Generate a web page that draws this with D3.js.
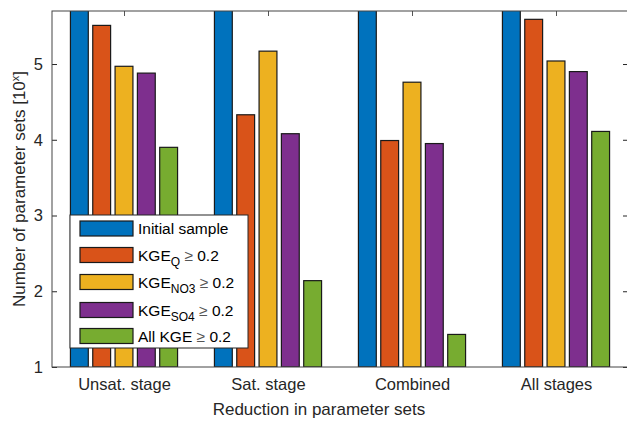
<!DOCTYPE html>
<html>
<head>
<meta charset="utf-8">
<script src="https://cdn.jsdelivr.net/npm/d3@7"></script>
<style>
  body { margin: 0; background: #fff; }
  svg { font-family: "Liberation Sans", Arial, sans-serif; }
</style>
</head>
<body>
<div id="chart"></div>
<script>
// Data (log10 of number of parameter sets)
const stages = ["Unsat. stage", "Sat. stage", "Combined", "All stages"];
const seriesNames = ["Initial sample", "KGE_Q", "KGE_NO3", "KGE_SO4", "All KGE"];
const initialSample = [6, 6, 6, 6];
const kgeQ = [5.51, 4.33, 3.99, 5.59];
const kgeNO3 = [4.97, 5.17, 4.76, 5.04];
const kgeSO4 = [4.88, 4.08, 3.95, 4.90];
const allKGE = [3.90, 2.14, 1.43, 4.11];
const yTicks = [1, 2, 3, 4, 5];

const seriesValues = [initialSample, kgeQ, kgeNO3, kgeSO4, allKGE];
const colors = ["#0072BD", "#D95319", "#EDB120", "#7E2F8E", "#77AC30"];

const width = 627, height = 424;
const margin = {top: 11, right: -1, bottom: 57, left: 52};
const innerW = width - margin.left - margin.right;
const innerH = height - margin.top - margin.bottom;

const svg = d3.select('#chart')
  .append('svg')
  .attr('width', width)
  .attr('height', height);

svg.append('defs').append('clipPath')
  .attr('id', 'plotClip')
  .append('rect')
  .attr('width', innerW)
  .attr('height', innerH);

const g = svg.append('g')
  .attr('transform', `translate(${margin.left},${margin.top})`);

// Category scale, xlim [0.5, 4.5]
const x = d3.scaleLinear().domain([0.5, 4.5]).range([0, innerW]);
const y = d3.scaleLinear().domain([1, 5.7]).range([innerH, 0]);

const groupStep = x(2) - x(1);
const slot = groupStep * 0.155;
const barW = slot * 0.8;

// bars
const bars = g.append('g').attr('clip-path', 'url(#plotClip)');
seriesValues.forEach((vals, s) => {
  bars.selectAll(null)
    .data(vals)
    .enter()
    .append('rect')
    .attr('x', (d, i) => x(i + 1) + (s - 2) * slot - barW / 2)
    .attr('y', d => y(d))
    .attr('width', barW)
    .attr('height', d => y(1) - y(d))
    .attr('fill', colors[s])
    .attr('stroke', '#1a1a1a')
    .attr('stroke-width', 1.2);
});

// axes (MATLAB style: ticks inward, box on)
const axisColor = '#262626';
const tickLen = 5;

const yAxis = g.append('g')
  .call(d3.axisLeft(y).tickValues(yTicks).tickSize(-tickLen).tickPadding(9).tickFormat(d3.format('d')));
yAxis.select('.domain').remove();
yAxis.selectAll('line').attr('stroke', axisColor);
yAxis.selectAll('text').attr('font-size', 16.5).attr('fill', '#262626');

const yAxisR = g.append('g')
  .attr('transform', `translate(${innerW},0)`)
  .call(d3.axisRight(y).tickValues(yTicks).tickSize(-tickLen).tickFormat(''));
yAxisR.select('.domain').remove();
yAxisR.selectAll('line').attr('stroke', axisColor);

const xAxis = g.append('g')
  .attr('transform', `translate(0,${innerH})`)
  .call(d3.axisBottom(x).tickValues([1, 2, 3, 4]).tickSize(0).tickPadding(11).tickFormat((d, i) => stages[i]));
xAxis.select('.domain').remove();
xAxis.selectAll('text').attr('font-size', 16.5).attr('fill', '#262626');

const xAxisT = g.append('g')
  .call(d3.axisTop(x).tickValues([1, 2, 3, 4]).tickSize(-tickLen).tickFormat(''));
xAxisT.select('.domain').remove();
xAxisT.selectAll('line').attr('stroke', '#555');

// box
g.append('rect')
  .attr('width', innerW)
  .attr('height', innerH)
  .attr('fill', 'none')
  .attr('stroke', '#444')
  .attr('stroke-width', 1);

// axis labels
svg.append('text')
  .attr('x', 319)
  .attr('y', 415)
  .attr('text-anchor', 'middle')
  .attr('font-size', 17)
  .attr('fill', '#262626')
  .text('Reduction in parameter sets');

const yl = svg.append('text')
  .attr('transform', `translate(25,${margin.top + innerH / 2}) rotate(-90)`)
  .attr('text-anchor', 'middle')
  .attr('font-size', 17)
  .attr('fill', '#262626');
yl.append('tspan').text('Number of parameter sets [10');
yl.append('tspan').attr('baseline-shift', 'super').attr('font-size', 11).text('x');
yl.append('tspan').text(']');

// legend
const legend = svg.append('g').attr('transform', 'translate(70,215)');
legend.append('rect')
  .attr('width', 178)
  .attr('height', 133)
  .attr('fill', '#fff')
  .attr('stroke', '#262626')
  .attr('stroke-width', 1);

const rowY = [13.5, 40, 67, 95, 121];
seriesNames.forEach((name, s) => {
  const row = legend.append('g').attr('transform', `translate(0,${rowY[s]})`);
  row.append('rect')
    .attr('x', 10)
    .attr('y', -7.5)
    .attr('width', 53)
    .attr('height', 15)
    .attr('fill', colors[s])
    .attr('stroke', '#1a1a1a')
    .attr('stroke-width', 1.2);
  const t = row.append('text')
    .attr('x', 68)
    .attr('y', 5.5)
    .attr('font-size', 15.5)
    .attr('fill', '#000');
  if (s === 0) {
    t.text(name);
  } else if (s === 4) {
    t.append('tspan').text('All KGE ');
    t.append('tspan').text('\u2265').attr('fill', '#555');
    t.append('tspan').text(' 0.2');
  } else {
    const sub = name.split('_')[1];
    t.append('tspan').text('KGE');
    t.append('tspan').attr('dy', 5).attr('font-size', 12).text(sub);
    t.append('tspan').attr('dy', -5).text(' \u2265').attr('fill', '#555');
    t.append('tspan').text(' 0.2');
  }
});
</script>
</body>
</html>
